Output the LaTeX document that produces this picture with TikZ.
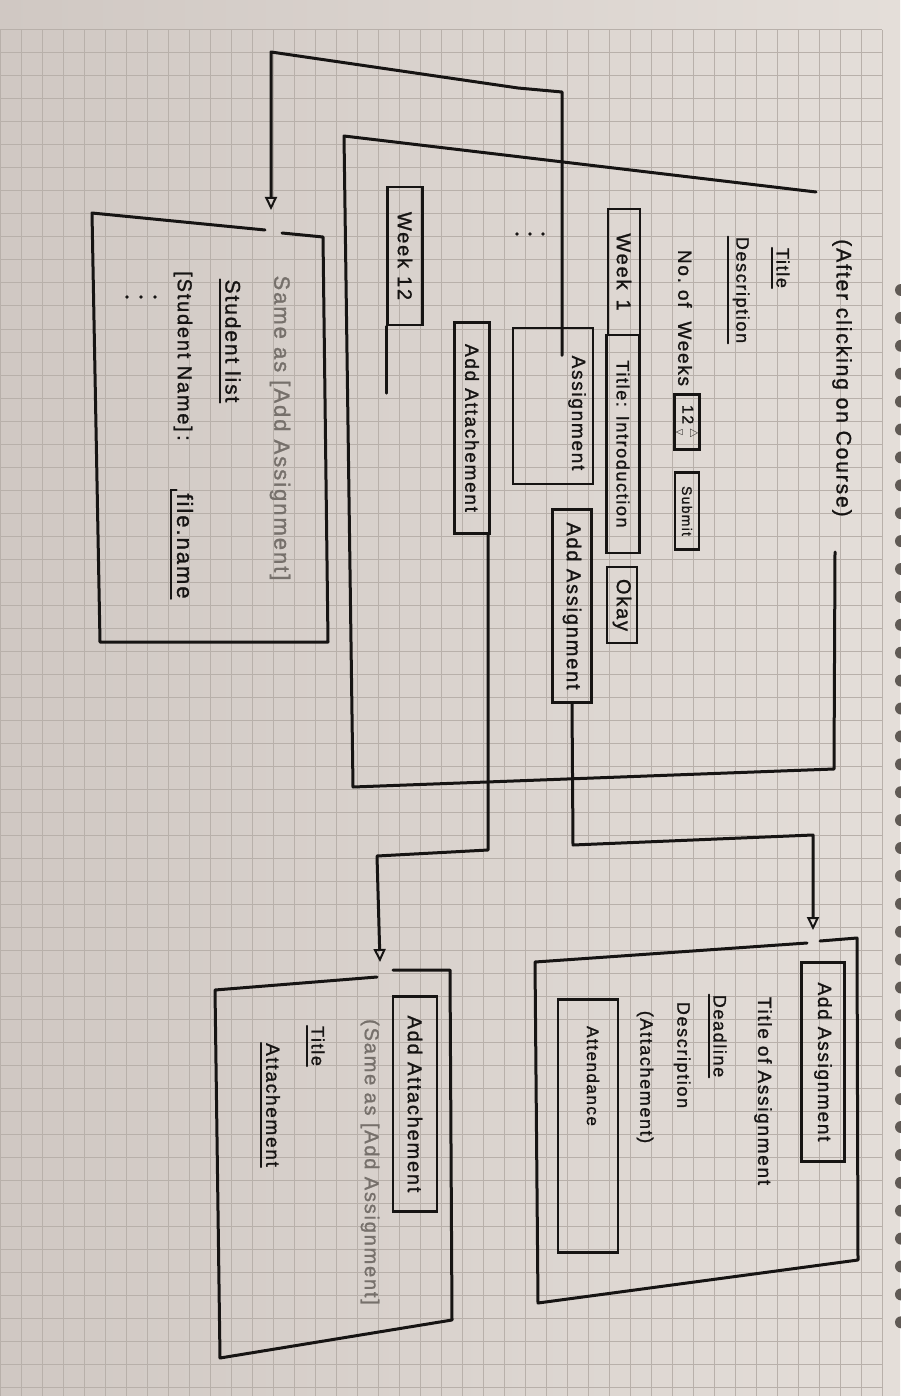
\documentclass[tikz,border=0pt]{standalone}
\usepackage{amsmath,amssymb}
\usepackage{fontspec}
\setmainfont{Liberation Sans}[LetterSpace=9,FakeBold=1.2]
\usetikzlibrary{arrows.meta,calc}
\definecolor{paperL}{RGB}{208,200,195}
\definecolor{paperR}{RGB}{228,222,217}
\definecolor{gridc}{RGB}{184,176,170}
\definecolor{ink}{RGB}{22,20,19}
\definecolor{pencil}{RGB}{118,112,107}
\definecolor{hole}{RGB}{96,90,85}
\begin{document}
\begin{tikzpicture}[x=1pt,y=-1pt,
  fsz/.style={font=\fontsize{#1}{#1}\selectfont},
  inkline/.style={draw=ink,line width=3pt,line join=round,line cap=round},
  ul/.style={draw=ink,line width=2pt,line cap=round},
  lbl/.style={rotate=-90,inner sep=0pt,text=ink,fsz=18},
  bx/.style={rotate=-90,draw=ink,line width=2.6pt,inner sep=0pt,text=ink,fsz=18},
  arr/.style={-{Triangle[open,length=13pt,width=12pt,line width=2pt]}}]
\useasboundingbox (0,0) rectangle (900,1396);
% paper
\shade[left color=paperL,right color=paperR] (0,0) rectangle (900,1396);
\foreach \i in {0,...,42} \draw[gridc,line width=1pt] (\i*21,30) -- (\i*21,1396);
\foreach \j in {0,...,59} \draw[gridc,line width=1pt] (0,30+\j*23) -- (882,30+\j*23);
\foreach \j in {0,...,37} \fill[hole] (901,290+\j*27.9) circle (6);

% ---------- main page (after clicking on course) ----------
\coordinate (m1) at (816,192);
\coordinate (m2) at (344,136);
\coordinate (m3) at (353,787);
\coordinate (m4) at (834,769);
\coordinate (m5) at (835,552);
\draw[inkline] (m1) -- (m2) -- (m3) -- (m4) -- (m5);
\node[lbl,fsz=21] (ttl) at (842,378) {(After clicking on Course)};

\node[lbl] (mtitle) at (783,268) {Title};
\draw[ul] ($(mtitle.south west)+(-4,0)$) -- ($(mtitle.south east)+(-4,0)$);
\node[lbl] (mdesc) at (741,290) {Description};
\draw[ul] ($(mdesc.south west)+(-4,0)$) -- ($(mdesc.south east)+(-4,0)$);
\node[lbl,fsz=19] (mweeks) at (685,318) {No.\ of\ \ Weeks};
\node[bx,minimum width=55,minimum height=25,fsz=16] (spin) at (687,422)
  {12\,$\genfrac{}{}{0pt}{}{\scriptstyle\triangle}{\scriptstyle\triangledown}$};
\node[bx,minimum width=77,minimum height=24,fsz=14] (submit) at (687,511) {Submit};
\node[bx,minimum width=126,minimum height=32,fsz=20] (wk1) at (624,272) {Week\hspace{10pt}1};
\node[bx,minimum width=218,minimum height=33] (wtitle) at (623,444) {Title: Introduction};
\node[bx,minimum width=76,minimum height=30,fsz=20] (okay) at (622,605) {Okay};
\node[bx,minimum width=156,minimum height=80] (asgbox) at (553,406) {};
\node[lbl,fsz=19] (asg) at (577,413) {Assignment};
\fill[ink] (517,234) circle (1.9) (530,234) circle (1.9) (543,234) circle (1.9);
\node[bx,minimum width=211,minimum height=35,fsz=19] (aatt) at (472,428) {Add Attachement};
\node[bx,minimum width=193,minimum height=39,fsz=20] (aasg) at (572,606) {Add Assignment};
\node[bx,minimum width=138,minimum height=35,fsz=20] (wk12) at (405,256) {Week\hspace{8pt}12};
\draw[inkline,line width=2.6pt] (wk12.south east) -- ++(0,67);

% ---------- connectors ----------
\coordinate (a1) at (562,92);
\coordinate (a2) at (518,88);
\coordinate (a3) at (271,52);
\coordinate (a4) at (271,210);
\draw[inkline,arr] (asg.west -| a1) -- (a1) -- (a2) -- (a3) -- (a4);
\coordinate (b1) at (488,850);
\coordinate (b2) at (377,856);
\coordinate (b3) at (380,962);
\draw[inkline,arr] (aatt.east -| b1) -- (b1) -- (b2) -- (b3);
\coordinate (c1) at (573,845);
\coordinate (c2) at (813,835);
\coordinate (c3) at (813,930);
\draw[inkline,arr] (aasg.east) -- (c1) -- (c2) -- (c3);

% ---------- student list page ----------
\draw[inkline] (265,230) -- (92,213) -- (100,642) -- (328,642) -- (323,237) -- (282,233);
\node[lbl,text=pencil,fsz=22] (same1) at (280,428) {Same as [Add Assignment]};
\node[lbl,fsz=21] (slist) at (233,341) {Student list};
\draw[ul] ($(slist.south west)+(-5,0)$) -- ($(slist.south east)+(-5,0)$);
\node[lbl,fsz=20] (sname) at (183,356) {[Student Name]\,:};
\node[lbl,fsz=22] (fname) at (185,546) {file.name};
\draw[ul] ($(fname.south west)+(0,-3)$) -- ($(fname.south west)+(-6,-3)$) -- ($(fname.south east)+(-6,0)$);
\fill[ink] (127,297) circle (1.9) (141,297) circle (1.9) (155,297) circle (1.9);

% ---------- add assignment page ----------
\draw[inkline] (807,943) -- (535,962) -- (538,1303) -- (858,1260) -- (857,938) -- (820,941);
\node[bx,minimum width=199,minimum height=43,fsz=19] (p2h) at (823,1062) {Add Assignment};
\node[lbl,fsz=19] (p2t) at (763,1091) {Title of Assignment};
\node[lbl] (p2d) at (720,1036) {Deadline};
\draw[ul] ($(p2d.south west)+(-4,0)$) -- ($(p2d.south east)+(-4,0)$);
\node[lbl] (p2desc) at (682,1055) {Description};
\node[lbl] (p2att) at (645,1077) {(Attachement)};
\node[bx,minimum width=253,minimum height=60] (p2box) at (588,1126) {};
\node[lbl,fsz=17] (p2at) at (593,1076) {Attendance};

% ---------- add attachment page ----------
\draw[inkline] (377,977) -- (215,990) -- (220,1358) -- (452,1320) -- (450,970) -- (393,970);
\node[bx,minimum width=215,minimum height=44,fsz=20] (p3h) at (415,1104) {Add Attachement};
\node[lbl,text=pencil,fsz=20] (p3s) at (370,1162) {(Same as [Add Assignment]};
\node[lbl] (p3t) at (318,1046) {Title};
\draw[ul] ($(p3t.south west)+(-4,0)$) -- ($(p3t.south east)+(-4,0)$);
\node[lbl,fsz=19] (p3a) at (273,1105) {Attachement};
\draw[ul] ($(p3a.south west)+(-5,0)$) -- ($(p3a.south east)+(-5,0)$);
\end{tikzpicture}
\end{document}
